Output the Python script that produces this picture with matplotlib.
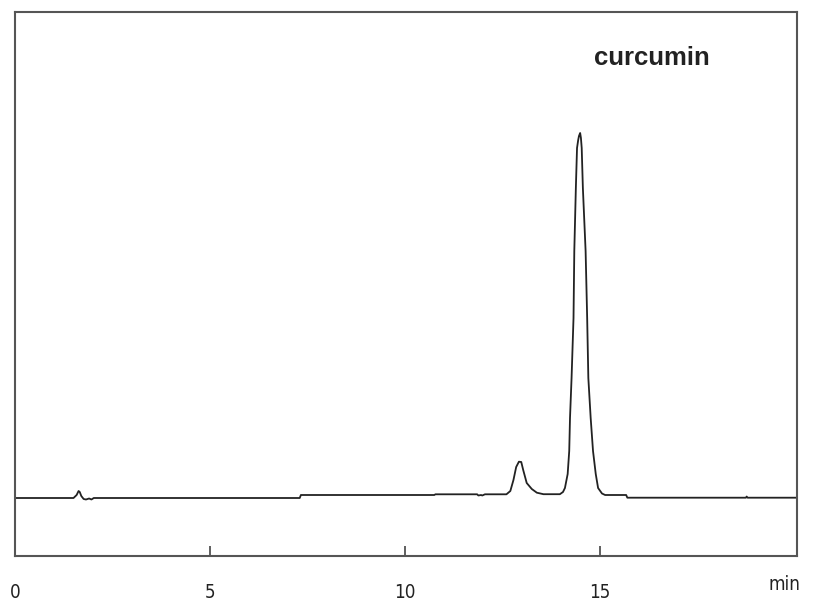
import matplotlib
matplotlib.use("Agg")
import matplotlib.pyplot as plt

# chromatogram trace: retention time (min) and detector signal (a.u.)
times = [0.0, 1.50, 1.58, 1.63, 1.66, 1.70, 1.76, 1.82, 1.90, 1.96, 2.02,
         7.30, 7.33, 10.75, 10.78, 11.85, 11.88, 11.95, 11.98, 12.05,
         12.60, 12.70, 12.78, 12.85, 12.92, 12.98, 13.03, 13.12, 13.25, 13.38, 13.55,
         13.97, 14.05, 14.10, 14.17, 14.21, 14.23, 14.27, 14.32, 14.34, 14.38, 14.41,
         14.44, 14.46, 14.49, 14.51, 14.53, 14.56, 14.63, 14.67, 14.70, 14.76, 14.82,
         14.89, 14.95, 15.05, 15.13, 15.67, 15.70, 18.74, 18.76, 18.78, 20.05]
signal = [0, 0, 3, 7, 6, 2, -1, -1.5, -0.5, -1.5, 0,
          0, 3, 3, 3.7, 3.7, 2.5, 3, 2.5, 3.7,
          3.7, 7, 18, 31, 36.3, 36, 28, 15, 9, 5.3, 3.8,
          3.8, 6, 10, 24, 47, 80, 120, 180, 247, 310, 350,
          358, 362, 365, 360, 350, 310, 247, 180, 120, 80, 47,
          24, 10, 4.5, 3, 3, 0.3, 0.3, 1.5, 0.3, 0.3]

tick_values = [0, 5, 10, 15]
tick_labels = ["0", "5", "10", "15"]
peak_label = "curcumin"
x_unit = "min"

fig = plt.figure(figsize=(8.15, 6.01), dpi=100)
ax = fig.add_axes([15 / 815, 45 / 601, 782 / 815, 544 / 601])

ax.plot(times, signal, color="#222222", linewidth=1.3)

ax.set_xlim(0, 20.05)
ax.set_ylim(-58, 486)

ax.set_yticks([])
ax.set_xticks(tick_values)
ax.set_xticklabels(tick_labels, family="DejaVu Sans", fontstretch="condensed",
                   fontsize=13.5, color="#222222")
ax.tick_params(axis="x", direction="in", length=7, width=1.2, color="#444444", pad=19.5)

for sp in ax.spines.values():
    sp.set_color("#555555")
    sp.set_linewidth(1.5)

ax.text(19.74, -86, x_unit, ha="center", va="center", fontsize=13.5,
        family="DejaVu Sans", fontstretch="condensed", color="#222222", clip_on=False)
ax.text(16.34, 440, peak_label, ha="center", va="center", fontsize=18.5,
        fontweight="bold", family=["Liberation Sans", "DejaVu Sans"], color="#222222")

fig.savefig("out.png", dpi=100)
